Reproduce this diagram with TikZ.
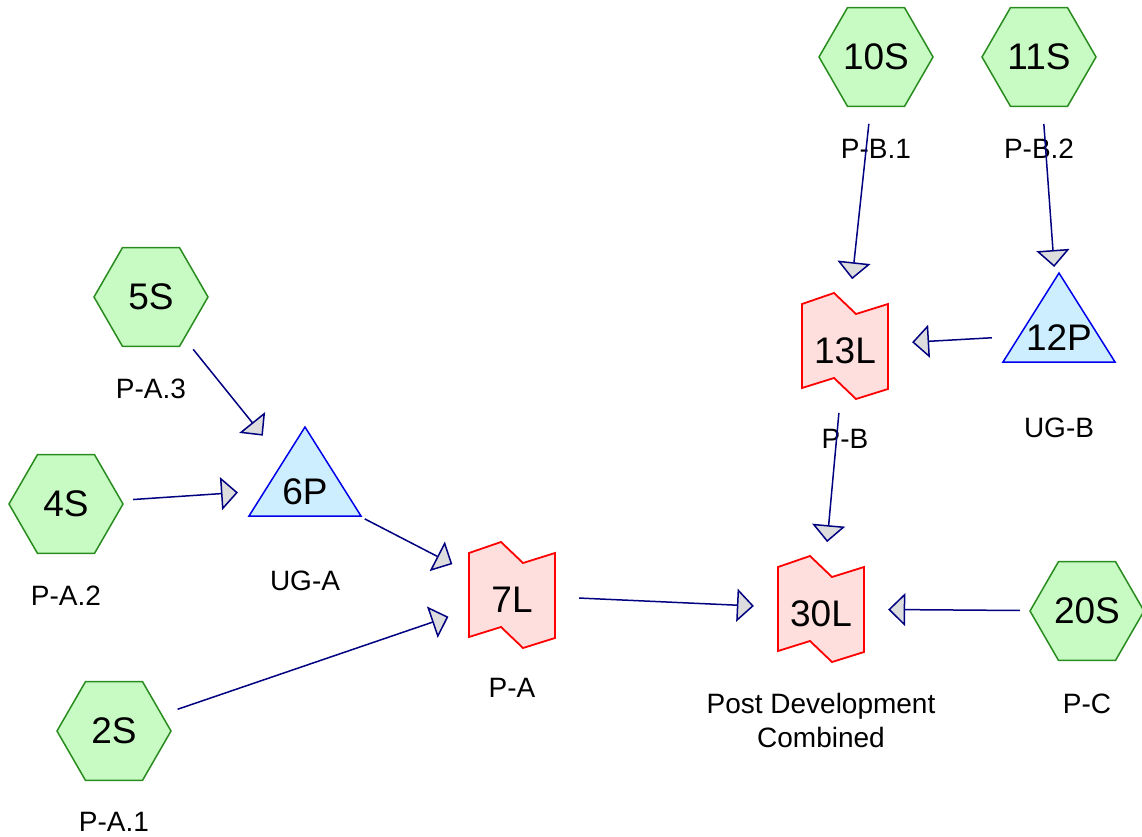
\documentclass[tikz,border=0pt]{standalone}
\usepackage{fontspec}
\setmainfont{Liberation Sans}
\usetikzlibrary{arrows.meta,positioning,backgrounds}

\definecolor{hexfill}{RGB}{200,250,195}
\definecolor{hexline}{RGB}{40,140,30}
\definecolor{trifill}{RGB}{205,238,255}
\definecolor{triline}{RGB}{0,0,235}
\definecolor{flagfill}{RGB}{255,222,222}
\definecolor{flagline}{RGB}{255,0,0}
\definecolor{linkcol}{RGB}{0,0,128}
\definecolor{tipfill}{RGB}{221,221,221}

\begin{document}
\begin{tikzpicture}[x=1pt,y=-1pt,
  % every station is an invisible circle that clips the connectors;
  % its visible outline is a pic drawn on the background layer
  station/.style={circle, minimum size=134pt, inner sep=0pt,
    font=\fontsize{37}{44}\selectfont},
  tristation/.style={station, text height=32.5pt, text depth=0pt},
  flagstation/.style={station, text height=34.5pt, text depth=0pt},
  hexa/.pic={
    \draw[hexline, fill=hexfill, line width=1.5pt, line join=miter]
      (-57,0) -- (-28.5,-49.4) -- (28.5,-49.4) -- (57,0)
      -- (28.5,49.4) -- (-28.5,49.4) -- cycle;},
  tria/.pic={
    \draw[triline, fill=trifill, line width=1.5pt, line join=miter]
      (0,-61) -- (56,28) -- (-56,28) -- cycle;},
  flag/.pic={
    \draw[flagline, fill=flagfill, line width=1.8pt, line join=miter]
      (-43,-42) -- (-11,-53) -- (11,-32) -- (43,-42)
      -- (43,43) -- (11,53) -- (-11,32) -- (-43,42) -- cycle;},
  tag/.style={inner sep=0pt, font=\fontsize{28}{34}\selectfont, align=center},
  link/.style={draw=linkcol, line width=1.5pt,
    -{Triangle[length=17pt, width=33pt, fill=tipfill]}}
]
\useasboundingbox (0,0) rectangle (1142,837);

% sources
\node[station] (10S) at (876,57) {10S};
\node[station] (11S) at (1039,57) {11S};
\node[station] (5S) at (151,297) {5S};
\node[station] (4S) at (66,504) {4S};
\node[station] (2S) at (114,731) {2S};
\node[station] (20S) at (1087,611) {20S};

% pumps
\node[tristation] (6P) at (305,488) {6P};
\node[tristation] (12P) at (1059,334) {12P};

% links
\node[flagstation] (7L) at (512,595) {7L};
\node[flagstation] (13L) at (845,346) {13L};
\node[flagstation] (30L) at (821,609) {30L};

% outlines behind the station names
\begin{scope}[on background layer]
  \foreach \s in {10S,11S,5S,4S,2S,20S} \pic at (\s) {hexa};
  \foreach \s in {6P,12P} \pic at (\s) {tria};
  \foreach \s in {7L,13L,30L} \pic at (\s) {flag};
\end{scope}

% captions
\node[tag, below=15pt of 10S] (t10S) {P-B.1};
\node[tag, below=15pt of 11S] (t11S) {P-B.2};
\node[tag, below=15pt of 5S] (t5S) {P-A.3};
\node[tag, below=15pt of 4S] (t4S) {P-A.2};
\node[tag, below=14pt of 2S] (t2S) {P-A.1};
\node[tag, below=16pt of 20S] (t20S) {P-C};
\node[tag, below=16pt of 6P] (t6P) {UG-A};
\node[tag, below=17pt of 12P] (t12P) {UG-B};
\node[tag, below=16pt of 7L] (t7L) {P-A};
\node[tag, below=16pt of 13L] (t13L) {P-B};
\node[tag, below=17pt of 30L] (t30L) {Post Development\\Combined};

% connectors
\draw[link] (5S) -- (6P);
\draw[link] (4S) -- (6P);
\draw[link] (6P) -- (7L);
\draw[link] (2S) -- (7L);
\draw[link] (7L) -- (30L);
\draw[link] (20S) -- (30L);
\draw[link] (13L) -- (30L);
\draw[link] (10S) -- (13L);
\draw[link] (11S) -- (12P);
\draw[link] (12P) -- (13L);
\end{tikzpicture}
\end{document}
